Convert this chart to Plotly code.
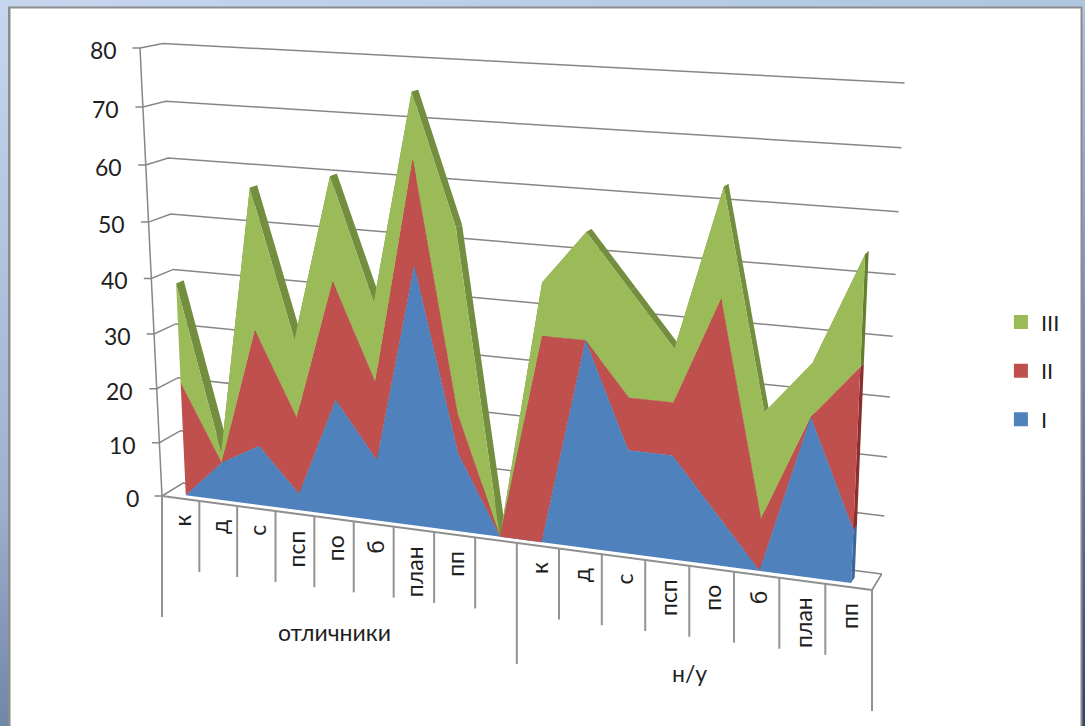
import numpy as np
import plotly.graph_objects as go

# ---- data -----------------------------------------------------------------
categories = ["к", "д", "с", "псп", "по", "б", "план", "пп", "", "к", "д", "с", "псп", "по", "б", "план", "пп"]
groups = ["отличники", "н/у"]
series_I = [0, 7, 11, 3, 21, 11, 46, 14, 0, 0, 36, 18, 18, 9, 0, 27, 9]
series_II = [21, 0, 21, 14, 21, 14, 18, 7, 0, 36, 0, 9, 9, 36, 9, 0, 27]
series_III = [18, 2, 25, 14, 18, 14, 11, 32, 0, 9, 18, 18, 9, 18, 18, 9, 18]
value_ticks = [0, 10, 20, 30, 40, 50, 60, 70, 80]

FONT = "Lato"
GRID = "#868686"
TEXT = "#1f1f1f"
COL_FRONT = {"I": "#4F81BD", "II": "#C0504D", "III": "#9BBB59"}
COL_TOP = {"I": "#3A6595", "II": "#8E3734", "III": "#728E3E"}
COL_SIDE = {"I": "#3D6699", "II": "#8A2F2D", "III": "#64802F"}

# ---- 3-D view: pixel position of the corners of the front and back planes --
FRONT = np.array([[162, 496], [872, 590], [895, 88], [140, 48]], float)
BACK = np.array([[183, 483], [881.7, 574], [904.5, 83], [163, 43.5]], float)
VMAX = 80.0
NCAT = len(categories)
AREA_FRONT_DEPTH, AREA_BACK_DEPTH = 0.25, 0.6


def homography(quad):
    src = [(0, 0), (1, 0), (1, 1), (0, 1)]
    A, b = [], []
    for (s, t), (x, y) in zip(src, quad):
        A.append([s, t, 1, 0, 0, 0, -s * x, -t * x]); b.append(x)
        A.append([0, 0, 0, s, t, 1, -s * y, -t * y]); b.append(y)
    h = np.linalg.solve(np.array(A), np.array(b))
    return np.append(h, 1).reshape(3, 3)


def proj(depth, u, v):
    """depth 0..1 front to back, u in categories, v in value units -> page pixels"""
    M = homography(FRONT + depth * (BACK - FRONT))
    p = M @ np.array([u / NCAT, v / VMAX, 1.0])
    return p[0] / p[2], p[1] / p[2]


fig = go.Figure()


def poly(pts, color):
    fig.add_trace(go.Scatter(x=[p[0] for p in pts], y=[p[1] for p in pts], mode="lines", fill="toself",
                             fillcolor=color, line=dict(width=0), hoverinfo="skip", showlegend=False))


def grad(pts, kind, scale):
    fig.add_trace(go.Scatter(x=[p[0] for p in pts], y=[p[1] for p in pts], mode="lines", fill="toself",
                             line=dict(width=0), hoverinfo="skip", showlegend=False,
                             fillgradient=dict(type=kind, colorscale=scale)))


def lines(segs, color=GRID, width=1.5):
    xs, ys = [], []
    for s in segs:
        xs += [p[0] for p in s] + [None]
        ys += [p[1] for p in s] + [None]
    fig.add_trace(go.Scatter(x=xs, y=ys, mode="lines", line=dict(color=color, width=width),
                             hoverinfo="skip", showlegend=False))


# page background: gradient strips round a white panel
grad([(0, 0), (1085, 0), (1085, 9), (0, 9)], "horizontal", [[0, "#C6D6EE"], [1, "#AEC5E0"]])
grad([(0, 0), (10, 0), (10, 726), (0, 726)], "vertical", [[0, "#6F86A5"], [0.31, "#9DB1CE"], [1, "#C6D6EE"]])
grad([(1080, 0), (1085, 0), (1085, 726), (1080, 726)], "vertical", [[0, "#2F4565"], [0.31, "#56719B"], [1, "#AEC5E0"]])
poly([(8, 6.5), (1082.5, 6.5), (1082.5, 726), (8, 726)], "#8C8C8C")
poly([(10.5, 8.5), (1080.5, 8.5), (1080.5, 726), (10.5, 726)], "#FFFFFF")

# walls and floor
segs = []
for v in value_ticks:
    f, b = proj(0, 0, v), proj(1, 0, v)
    segs.append([(f[0] - 7.5, f[1]), f, b, proj(1, NCAT, v)])
segs.append([proj(0, 0, 0), proj(0, 0, VMAX)])
segs.append([proj(0, NCAT, 0), proj(1, NCAT, 0)])
lines(segs)
lines([[proj(0, 0, 0), proj(0, NCAT, 0)]], color="#8f8f8f", width=2)

# category ticks hanging below the floor edge
ticks = []
for i in range(NCAT + 1):
    p = proj(0, i, 0)
    length = 121 if i in (0, 9, NCAT) else 71
    ticks.append([p, (p[0], p[1] + length)])
lines(ticks, color="#939393", width=2)

# stacked areas with depth
names = ["I", "II", "III"]
stack = np.cumsum([series_I, series_II, series_III], axis=0)
cols = [i + 0.5 for i in range(NCAT)]
for k in range(3):
    top = stack[k]
    for i in range(NCAT - 1):
        poly([proj(AREA_FRONT_DEPTH, cols[i], top[i]), proj(AREA_FRONT_DEPTH, cols[i + 1], top[i + 1]),
              proj(AREA_BACK_DEPTH, cols[i + 1], top[i + 1]), proj(AREA_BACK_DEPTH, cols[i], top[i])],
             COL_TOP[names[k]])
    base = stack[k - 1][-1] if k else 0
    poly([proj(AREA_FRONT_DEPTH, cols[-1], base), proj(AREA_FRONT_DEPTH, cols[-1], top[-1]),
          proj(AREA_BACK_DEPTH, cols[-1], top[-1]), proj(AREA_BACK_DEPTH, cols[-1], base)],
         COL_SIDE[names[k]])
for k in (2, 1, 0):
    top = stack[k]
    low = stack[k - 1] if k else np.zeros(NCAT)
    pts = [proj(AREA_FRONT_DEPTH, cols[i], top[i]) for i in range(NCAT)]
    pts += [proj(AREA_FRONT_DEPTH, cols[i], low[i]) for i in range(NCAT - 1, -1, -1)]
    poly(pts, COL_FRONT[names[k]])

# legend entries
for k in (2, 1, 0):
    fig.add_trace(go.Scatter(x=[None], y=[None], mode="markers", name=names[k], legendgroup=names[k],
                             marker=dict(symbol="square", size=14, color=COL_FRONT[names[k]])))

# text
notes = []
for v in value_ticks:
    f = proj(0, 0, v)
    notes.append(dict(x=f[0] - 21.5, y=f[1] + 2, text=str(v), xanchor="right", yanchor="middle",
                      font=dict(size=23, family=FONT, color=TEXT)))
for i, c in enumerate(categories):
    if c:
        p = proj(0, i + 0.5, 0)
        notes.append(dict(x=p[0] + 1, y=p[1] + 14.5, text=c, textangle=-90, xanchor="center", yanchor="top",
                          font=dict(size=23, family=FONT, color=TEXT)))
for g, (a, b, off) in zip(groups, [(0, 9, 113), (9, 17, 107)]):
    p = proj(0, (a + b) / 2, 0)
    notes.append(dict(x=p[0] + 0.5, y=p[1] + off, text=g, xanchor="center", yanchor="middle",
                      font=dict(size=23, family=FONT, color=TEXT)))
for n in notes:
    n.update(showarrow=False, xref="x", yref="y")

fig.update_layout(
    width=1085, height=726, margin=dict(l=0, r=0, t=0, b=0, pad=0),
    paper_bgcolor="#FFFFFF", plot_bgcolor="rgba(0,0,0,0)",
    xaxis=dict(range=[0, 1085], visible=False, fixedrange=True),
    yaxis=dict(range=[726, 0], visible=False, fixedrange=True),
    annotations=notes,
    legend=dict(x=0.9225, y=0.585, xanchor="left", yanchor="top", font=dict(size=22, family=FONT, color=TEXT),
                tracegroupgap=17, bgcolor="rgba(0,0,0,0)", itemwidth=30,
                itemclick=False, itemdoubleclick=False),
)
fig.write_html("out.html", config={"displayModeBar": False},
               post_script="document.body.style.margin='0';document.documentElement.style.overflow='hidden';")
